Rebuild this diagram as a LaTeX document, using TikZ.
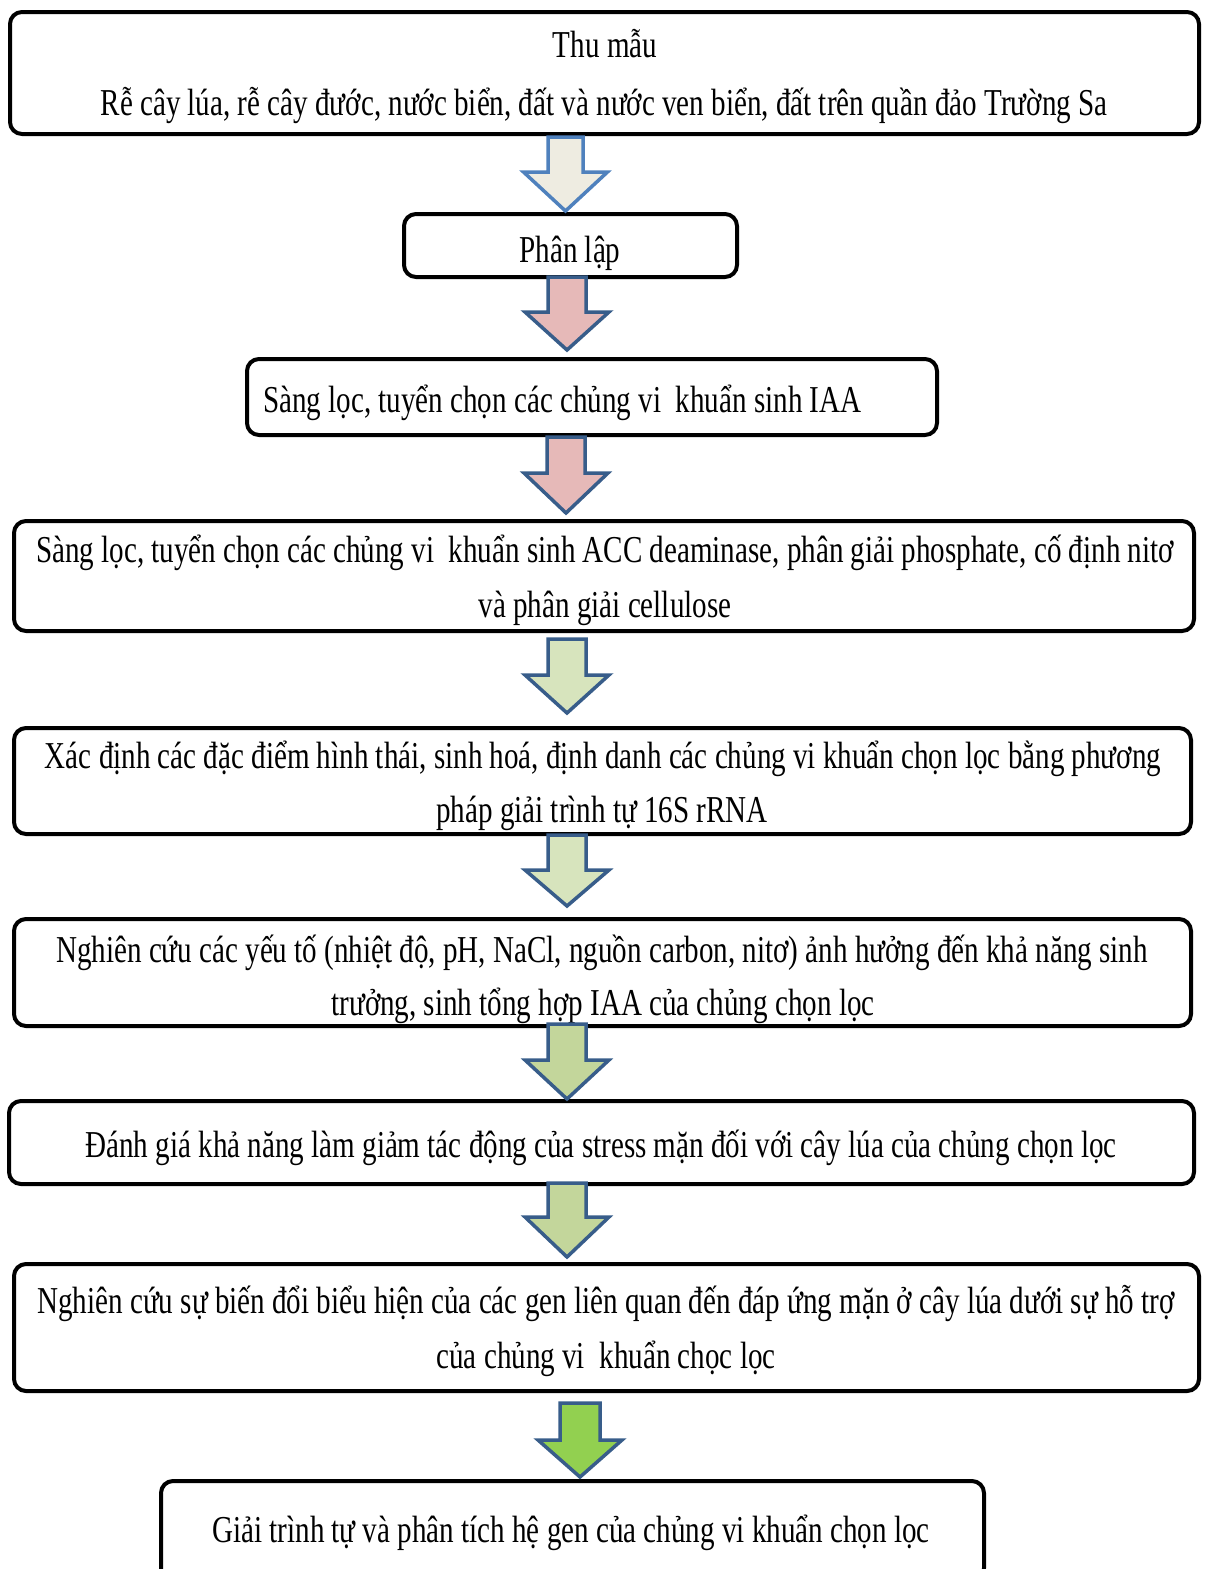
\documentclass[tikz,border=0pt]{standalone}
\usepackage{fontspec}
\setmainfont{Liberation Serif}[FakeStretch=0.765]
\begin{document}
\begin{tikzpicture}[x=1pt,y=-1pt,
  stepbox/.style={draw=black,line width=4pt,rounded corners=12pt,fill=white},
  lbl/.style={anchor=base,inner sep=0pt,font=\fontsize{38}{44}\selectfont},
  arrowline/.style={draw=arrowblue,line width=3.5pt,line join=miter}]
\definecolor{arrowblue}{HTML}{385D8A}
\definecolor{lightblue}{HTML}{4F81BD}
\definecolor{beige}{HTML}{EEECE1}
\definecolor{rose}{HTML}{E6B9B8}
\definecolor{palegreen}{HTML}{D7E4BD}
\definecolor{midgreen}{HTML}{C3D69B}
\definecolor{brightgreen}{HTML}{92D050}
\useasboundingbox (0,0) rectangle (1206,1569);

% block arrow: #1 style, #2 centre x, #3 top, #4 start of head, #5 tip, #6 half shaft, #7 half head
\newcommand{\blockarrow}[7]{%
  \draw[arrowline,#1] (#2-#6,#3) -- (#2+#6,#3) -- (#2+#6,#4) -- (#2+#7,#4)
     -- (#2,#5) -- (#2-#7,#4) -- (#2-#6,#4) -- cycle;}

% process boxes
\draw[stepbox] (10,12) rectangle (1199,134);
\node (b1) at (604.5,73) {};
\draw[stepbox] (404,214) rectangle (737,277);
\node (b2) at (570.5,245.5) {};
\draw[stepbox] (247,359) rectangle (937,435);
\node (b3) at (592,397) {};
\draw[stepbox] (14,521) rectangle (1194,631);
\node (b4) at (604,576) {};
\draw[stepbox] (14,728) rectangle (1191,834);
\node (b5) at (602.5,781) {};
\draw[stepbox] (14,919) rectangle (1191,1026);
\node (b6) at (602.5,972.5) {};
\draw[stepbox] (9,1101) rectangle (1194,1184);
\node (b7) at (601.5,1142.5) {};
\draw[stepbox] (14,1264) rectangle (1199,1391);
\node (b8) at (606.5,1327.5) {};
\draw[stepbox] (161,1481) rectangle (984,1580);
\node (b9) at (572.5,1530) {};

% labels
\node[lbl] (t1a) at (605,57) {Thu mẫu};
\node[lbl] (t1b) at (604,115) {Rễ cây lúa, rễ cây đước, nước biển, đất và nước ven biển, đất trên quần đảo Trường Sa};
\node[lbl] (t2) at (570,262) {Phân lập};
\node[lbl,anchor=base west] (t3) at (263,412) {Sàng lọc, tuyển chọn các chủng vi\ \ khuẩn sinh IAA};
\node[lbl] (t4a) at (605,562) {Sàng lọc, tuyển chọn các chủng vi\ \ khuẩn sinh ACC deaminase, phân giải phosphate, cố định nitơ};
\node[lbl] (t4b) at (605,617) {và phân giải cellulose};
\node[lbl] (t5a) at (603,768) {Xác định các đặc điểm hình thái, sinh hoá, định danh các chủng vi khuẩn chọn lọc bằng phương};
\node[lbl] (t5b) at (602,822) {pháp giải trình tự 16S rRNA};
\node[lbl] (t6a) at (602,962) {Nghiên cứu các yếu tố (nhiệt độ, pH, NaCl, nguồn carbon, nitơ) ảnh hưởng đến khả năng sinh};
\node[lbl] (t6b) at (603,1015) {trưởng, sinh tổng hợp IAA của chủng chọn lọc};
\node[lbl] (t7) at (601,1157) {Đánh giá khả năng làm giảm tác động của stress mặn đối với cây lúa của chủng chọn lọc};
\node[lbl] (t8a) at (606,1313) {Nghiên cứu sự biến đổi biểu hiện của các gen liên quan đến đáp ứng mặn ở cây lúa dưới sự hỗ trợ};
\node[lbl] (t8b) at (606,1368) {của chủng vi\ \ khuẩn chọc lọc};
\node[lbl] (t9) at (571,1542) {Giải trình tự và phân tích hệ gen của chủng vi khuẩn chọn lọc};

% arrows between the steps
\blockarrow{draw=lightblue,fill=beige}{565.5}{137}{172}{211}{17.5}{42}
\blockarrow{fill=rose}{567}{277}{312}{350}{19}{42}
\blockarrow{fill=rose}{566}{437}{473}{513}{19}{42}
\blockarrow{fill=palegreen}{567}{639}{675}{713}{19}{42}
\blockarrow{fill=palegreen}{567}{835}{870}{906}{19}{42}
\blockarrow{fill=midgreen}{567}{1024}{1060}{1099}{19}{42}
\blockarrow{fill=midgreen}{567}{1183}{1217}{1257}{19}{42}
\blockarrow{fill=brightgreen}{580}{1403}{1440}{1477}{20}{42}
\end{tikzpicture}
\end{document}
